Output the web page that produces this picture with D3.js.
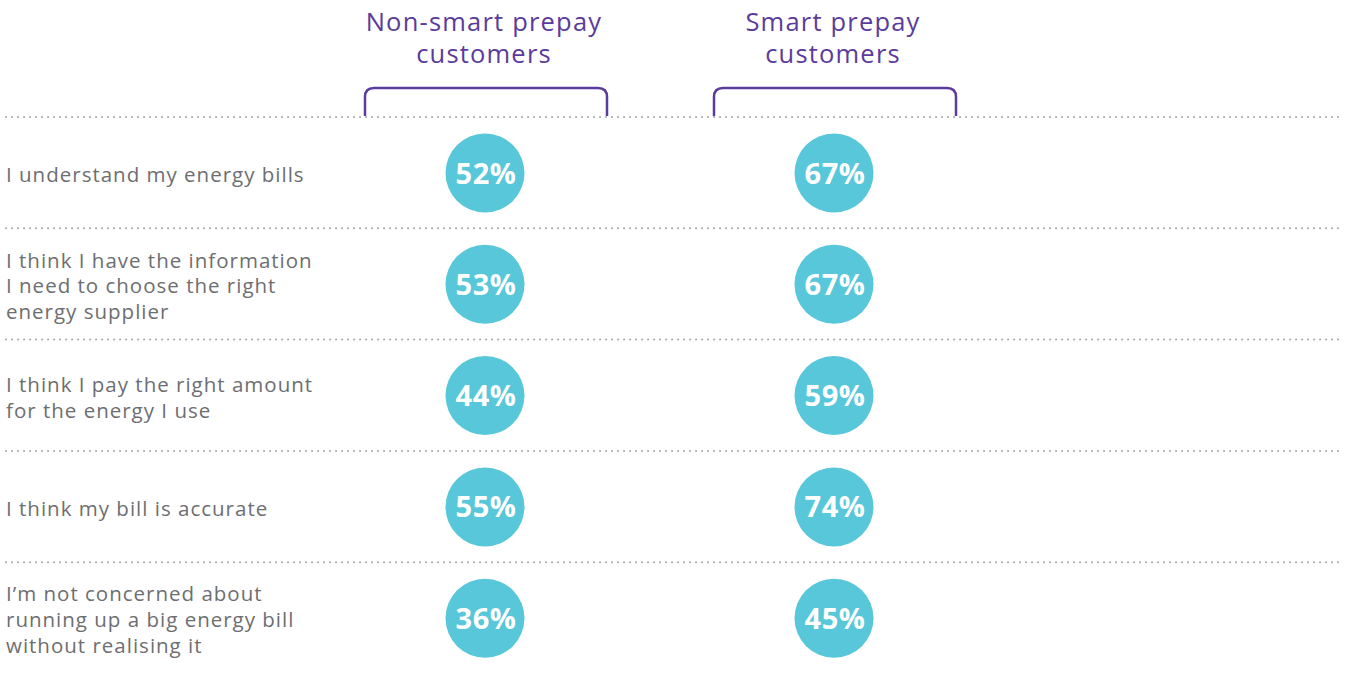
<!DOCTYPE html>
<html><head><meta charset="utf-8">
<script src="https://cdn.jsdelivr.net/npm/d3@7"></script>
<style>body{margin:0;background:#fff}svg{display:block}</style>
</head><body>
<script>
const categories = [
  ["I understand my energy bills"],
  ["I think I have the information", "I need to choose the right", "energy supplier"],
  ["I think I pay the right amount", "for the energy I use"],
  ["I think my bill is accurate"],
  ["I’m not concerned about", "running up a big energy bill", "without realising it"]
];
const groups = ["Non-smart prepay customers", "Smart prepay customers"];
const groupLines = [["Non-smart prepay", "customers"], ["Smart prepay", "customers"]];
const nonSmart = [52, 53, 44, 55, 36];
const smart = [67, 67, 59, 74, 45];

const W = 1346, H = 675;
const svg = d3.select("body").append("svg").attr("width", W).attr("height", H);
const purple = "#5b3b9c", teal = "#57c7d9", grey = "#6d6e71";
const font = "'Open Sans', sans-serif";

const y = d3.scaleBand().domain(d3.range(categories.length)).range([117, 117 + 5 * 111.3]).padding(0);
const x = d3.scalePoint().domain(groups).range([485, 834]);

// dotted lines
svg.selectAll("line.sep").data(d3.range(categories.length)).join("line")
  .attr("x1", 6).attr("x2", 1342)
  .attr("y1", d => y(d)).attr("y2", d => y(d))
  .attr("stroke", "#a7a9ac").attr("stroke-width", 2)
  .attr("stroke-dasharray", "0.1,5.9").attr("stroke-linecap", "round");

// headers
groups.forEach((g, gi) => {
  const cx = x(g);
  groupLines[gi].forEach((l, li) => svg.append("text").attr("text-anchor", "middle")
    .attr("font-family", font).attr("font-size", 25.5).attr("letter-spacing", 1.2).attr("fill", purple)
    .attr("x", cx - 1).attr("y", 31 + li * 32).text(l));
  const x0 = cx - 120, x1 = cx + 122, top = 88, bot = y(0) - 1, r = 9;
  svg.append("path")
    .attr("d", `M${x0},${bot} V${top + r} Q${x0},${top} ${x0 + r},${top} H${x1 - r} Q${x1},${top} ${x1},${top + r} V${bot}`)
    .attr("fill", "none").attr("stroke", purple).attr("stroke-width", 2.5);
});

// labels
categories.forEach((lines, i) => {
  const cy = y(i) + 56;
  const lh = 25.8;
  lines.forEach((l, li) => svg.append("text").attr("font-family", font).attr("font-size", 20.5)
    .attr("letter-spacing", 1.0).attr("fill", grey).attr("x", 6)
    .attr("y", cy + 9 + (li - (lines.length - 1) / 2) * lh).text(l));
});

// circles
const series = [nonSmart, smart];
series.forEach((vals, si) => {
  const g = svg.append("g");
  g.selectAll("circle").data(vals).join("circle")
    .attr("cx", x(groups[si])).attr("cy", (d, i) => y(i) + 56).attr("r", 39.5).attr("fill", teal);
  g.selectAll("text").data(vals).join("text")
    .attr("x", x(groups[si]) + 1).attr("y", (d, i) => y(i) + 56 + 10.5)
    .attr("text-anchor", "middle").attr("font-family", font).attr("font-weight", 700)
    .attr("font-size", 29).attr("letter-spacing", 0.5).attr("fill", "#fff").text(d => d + "%");
});
</script>
</body></html>
